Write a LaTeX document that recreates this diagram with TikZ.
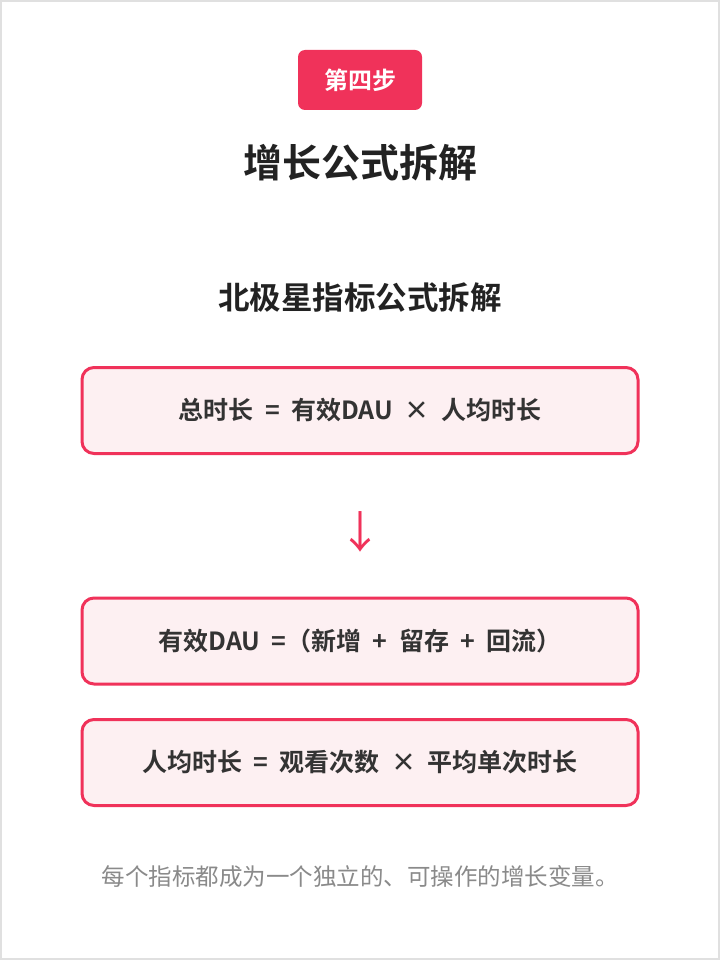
\documentclass[tikz,border=0pt]{standalone}
\usepackage{fontspec}
\setmainfont{Noto Sans CJK SC}
\newfontfamily\cjkb{Noto Sans CJK SC Bold}
\definecolor{accent}{HTML}{F0325A}
\definecolor{boxfill}{HTML}{FDF0F2}
\definecolor{ink}{HTML}{222222}
\definecolor{boxink}{HTML}{333333}
\definecolor{foot}{HTML}{8A8A8A}
\tikzset{
  formbox/.style={draw=accent, line width=3pt, fill=boxfill, rounded corners=12pt, minimum width=556pt, minimum height=86pt, text=boxink, font=\cjkb\fontsize{25}{30}\selectfont},
}
\begin{document}
\begin{tikzpicture}[x=1pt,y=-1pt]
\useasboundingbox (0,0) rectangle (720,960);
\draw[draw=black!12, line width=1.5pt, fill=white] (1,1) rectangle (719,959);
\node[fill=accent, rounded corners=7pt, minimum width=124pt, minimum height=60pt, text=white, font=\cjkb\fontsize{24}{28}\selectfont] (badge) at (360,80) {第四步};
\node[text=ink, font=\cjkb\fontsize{39}{46}\selectfont] (title) at (360,163) {增长公式拆解};
\node[text=ink, font=\cjkb\fontsize{31.5}{37}\selectfont] (sub) at (360,298) {北极星指标公式拆解};
\node[formbox] (b1) at (360,410.5) {总时长 \ = \ 有效DAU \ × \ 人均时长};
\node[text=accent, font=\fontsize{44}{50}\selectfont] (arr) at (360,532) {↓};
\node[formbox] (b2) at (360,641) {有效DAU \ =（新增 \ + \ 留存 \ + \ 回流）};
\node[formbox] (b3) at (360,762.5) {人均时长 \ = \ 观看次数 \ × \ 平均单次时长};
\node[text=foot, font=\fontsize{23.5}{28}\selectfont] (ft) at (360,877) {每个指标都成为一个独立的、可操作的增长变量。};
\end{tikzpicture}
\end{document}
